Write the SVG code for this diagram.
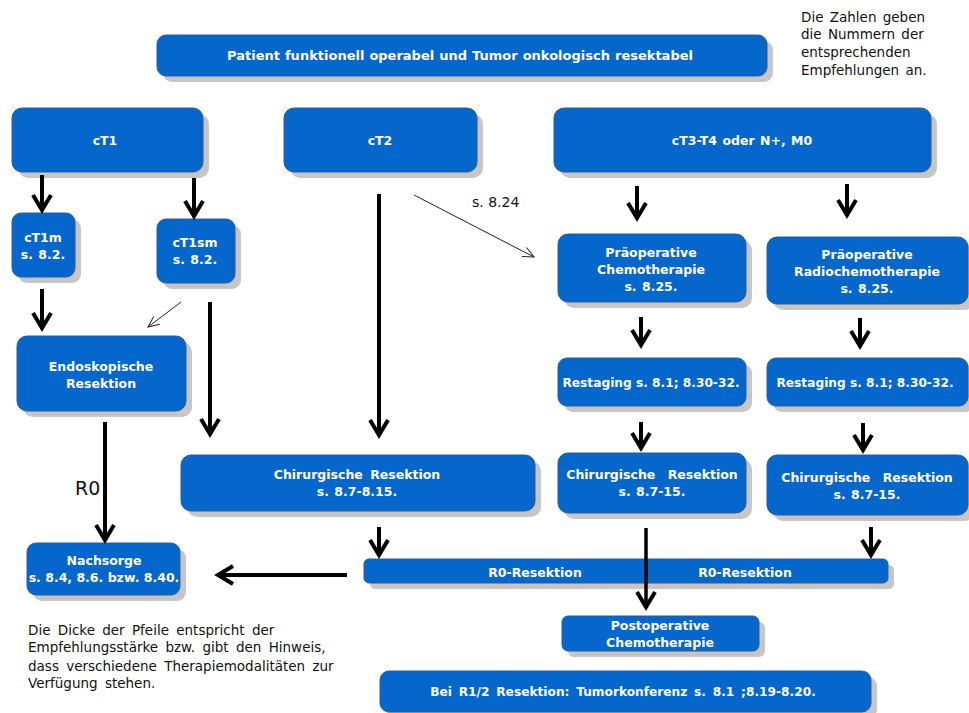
<svg xmlns="http://www.w3.org/2000/svg" width="969" height="713" viewBox="0 0 969 713">
<style>
.sh{fill:#c6c6c6}
.bx{fill:#0566cb;stroke:#2a5c9a;stroke-width:1}
.t{font-family:"DejaVu Sans",Verdana,sans-serif;font-weight:bold;font-size:12.5px;fill:#fff;text-anchor:middle;word-spacing:1px}
.n{font-family:"DejaVu Sans",Verdana,sans-serif;font-size:13.5px;fill:#111;word-spacing:2px}
.k{fill:none;stroke:#000;stroke-width:4}
.th{fill:none;stroke:#222;stroke-width:1}
</style>
<defs>
<marker id="ah" viewBox="-20 -12 24 24" refX="1" refY="0" markerWidth="24" markerHeight="24" markerUnits="userSpaceOnUse" orient="auto">
<path d="M-15,-9 L0,0 L-15,9" fill="none" stroke="#000" stroke-width="4"/>
</marker>
<marker id="at" viewBox="-12 -8 14 16" refX="0" refY="0" markerWidth="14" markerHeight="16" markerUnits="userSpaceOnUse" orient="auto">
<path d="M-11,-5 L0,0 L-11,5" fill="none" stroke="#222" stroke-width="1"/>
</marker>
</defs>
<rect width="969" height="713" fill="#fff"/>

<g id="top"><rect class="sh" x="163" y="41" width="610" height="41" rx="9"/><rect class="bx" x="157" y="35" width="610" height="41" rx="9"/><text class="t" x="460" y="60" style="font-size:13px;word-spacing:0.5px">Patient funktionell operabel und Tumor onkologisch resektabel</text></g>

<g id="ct1"><rect class="sh" x="18" y="114" width="191" height="64" rx="10"/><rect class="bx" x="12" y="108" width="191" height="64" rx="10"/><text class="t" x="105" y="145">cT1</text></g>
<g id="ct2"><rect class="sh" x="290" y="114" width="193" height="64" rx="10"/><rect class="bx" x="284" y="108" width="193" height="64" rx="10"/><text class="t" x="380" y="145">cT2</text></g>
<g id="ct3"><rect class="sh" x="560" y="114" width="377" height="64" rx="10"/><rect class="bx" x="554" y="108" width="377" height="64" rx="10"/><text class="t" x="742" y="145">cT3-T4 oder N+, M0</text></g>

<g id="ct1m"><rect class="sh" x="18" y="219" width="63" height="64" rx="9"/><rect class="bx" x="12" y="213" width="63" height="64" rx="9"/><text class="t" x="43" y="242">cT1m</text><text class="t" x="43" y="259">s. 8.2.</text></g>
<g id="ct1sm"><rect class="sh" x="163" y="225" width="78" height="64" rx="9"/><rect class="bx" x="157" y="219" width="78" height="64" rx="9"/><text class="t" x="195" y="247">cT1sm</text><text class="t" x="195" y="264">s. 8.2.</text></g>

<g id="endo"><rect class="sh" x="23" y="342" width="169" height="75" rx="10"/><rect class="bx" x="17" y="336" width="169" height="75" rx="10"/><text class="t" x="101" y="371">Endoskopische</text><text class="t" x="101" y="388">Resektion</text></g>

<g id="chir1"><rect class="sh" x="187" y="461" width="354" height="56" rx="10"/><rect class="bx" x="181" y="455" width="354" height="56" rx="10"/><text class="t" x="357" y="479" style="word-spacing:3px">Chirurgische Resektion</text><text class="t" x="357" y="496">s. 8.7-8.15.</text></g>

<g id="nach"><rect class="sh" x="33" y="549" width="153" height="52" rx="9"/><rect class="bx" x="27" y="543" width="153" height="52" rx="9"/><text class="t" x="104" y="565">Nachsorge</text><text class="t" x="104" y="582" style="word-spacing:0">s. 8.4, 8.6. bzw. 8.40.</text></g>

<g id="r0bar"><rect class="sh" x="370" y="565" width="524" height="24" rx="5"/><rect class="bx" x="364" y="559" width="524" height="24" rx="5"/><text class="t" x="535" y="577">R0-Resektion</text><text class="t" x="745" y="577">R0-Resektion</text></g>

<g id="postop"><rect class="sh" x="568" y="622" width="197" height="35" rx="6"/><rect class="bx" x="562" y="616" width="197" height="35" rx="6"/><text class="t" x="660" y="630">Postoperative</text><text class="t" x="660" y="647">Chemotherapie</text></g>

<g id="r12"><rect class="sh" x="386" y="677" width="491" height="41" rx="9"/><rect class="bx" x="380" y="671" width="491" height="41" rx="9"/><text class="t" x="623" y="696" style="font-size:12.2px;word-spacing:2.5px">Bei R1/2 Resektion: Tumorkonferenz  s. 8.1 ;8.19-8.20.</text></g>

<g id="praechemo"><rect class="sh" x="564" y="240" width="188" height="68" rx="10"/><rect class="bx" x="558" y="234" width="188" height="68" rx="10"/><text class="t" x="651" y="257">Präoperative</text><text class="t" x="651" y="274">Chemotherapie</text><text class="t" x="651" y="291">s. 8.25.</text></g>
<g id="praeradio"><rect class="sh" x="773" y="243" width="201" height="67" rx="10"/><rect class="bx" x="767" y="237" width="201" height="67" rx="10"/><text class="t" x="867" y="259">Präoperative</text><text class="t" x="867" y="276">Radiochemotherapie</text><text class="t" x="867" y="293">s. 8.25.</text></g>

<g id="restage1"><rect class="sh" x="564" y="364" width="188" height="48" rx="9"/><rect class="bx" x="558" y="358" width="188" height="48" rx="9"/><text class="t" x="651" y="387" style="font-size:12.2px;word-spacing:0">Restaging s. 8.1; 8.30-32.</text></g>
<g id="restage2"><rect class="sh" x="773" y="364" width="201" height="48" rx="9"/><rect class="bx" x="767" y="358" width="201" height="48" rx="9"/><text class="t" x="865" y="387" style="font-size:12.2px;word-spacing:0">Restaging s. 8.1; 8.30-32.</text></g>

<g id="chir2"><rect class="sh" x="564" y="459" width="188" height="60" rx="10"/><rect class="bx" x="558" y="453" width="188" height="60" rx="10"/><text class="t" x="652" y="479" style="word-spacing:8px">Chirurgische Resektion</text><text class="t" x="652" y="496">s. 8.7-15.</text></g>
<g id="chir3"><rect class="sh" x="773" y="461" width="201" height="60" rx="10"/><rect class="bx" x="767" y="455" width="201" height="60" rx="10"/><text class="t" x="867" y="482" style="word-spacing:8px">Chirurgische Resektion</text><text class="t" x="867" y="499">s. 8.7-15.</text></g>

<g id="connectors">
<line class="k" x1="42" y1="175" x2="42" y2="211" marker-end="url(#ah)"/>
<line class="k" x1="194" y1="178" x2="194" y2="217" marker-end="url(#ah)"/>
<line class="k" x1="42" y1="289" x2="42" y2="329" marker-end="url(#ah)"/>
<line class="th" x1="181" y1="302" x2="148" y2="327" marker-end="url(#at)"/>
<line class="k" x1="210" y1="302" x2="210" y2="435" marker-end="url(#ah)"/>
<line class="k" x1="379" y1="194" x2="379" y2="436" marker-end="url(#ah)"/>
<line class="th" x1="414" y1="195" x2="534" y2="257" marker-end="url(#at)"/>
<line class="k" x1="637" y1="186" x2="637" y2="219" marker-end="url(#ah)"/>
<line class="k" x1="847" y1="184" x2="847" y2="216" marker-end="url(#ah)"/>
<line class="k" x1="641" y1="317" x2="641" y2="346" marker-end="url(#ah)"/>
<line class="k" x1="860" y1="318" x2="860" y2="347" marker-end="url(#ah)"/>
<line class="k" x1="641" y1="422" x2="641" y2="449" marker-end="url(#ah)"/>
<line class="k" x1="863" y1="423" x2="863" y2="451" marker-end="url(#ah)"/>
<line class="k" x1="105" y1="422" x2="105" y2="541" marker-end="url(#ah)"/>
<line class="k" x1="379" y1="527" x2="379" y2="556" marker-end="url(#ah)"/>
<line class="k" x1="871" y1="527" x2="871" y2="556" marker-end="url(#ah)"/>
<line class="k" x1="646" y1="528" x2="646" y2="608" style="stroke-width:3.5" marker-end="url(#ah)"/>
<line class="k" x1="347" y1="575" x2="217" y2="575" marker-end="url(#ah)"/>
<text class="n" x="472" y="207" style="font-size:14px;word-spacing:0">s. 8.24</text>
<text class="n" x="75" y="495" style="font-size:19px">R0</text>
</g>

<g id="notes">
<text class="n" x="801" y="22">Die Zahlen geben</text>
<text class="n" x="801" y="39">die Nummern der</text>
<text class="n" x="801" y="57">entsprechenden</text>
<text class="n" x="801" y="75">Empfehlungen an.</text>
<text class="n" x="28" y="635" style="word-spacing:3px">Die Dicke der Pfeile entspricht der</text>
<text class="n" x="28" y="652" style="word-spacing:3px">Empfehlungsstärke bzw. gibt den Hinweis,</text>
<text class="n" x="28" y="671" style="word-spacing:3px">dass verschiedene Therapiemodalitäten zur</text>
<text class="n" x="28" y="688" style="word-spacing:3px">Verfügung stehen.</text>
</g>
</svg>
